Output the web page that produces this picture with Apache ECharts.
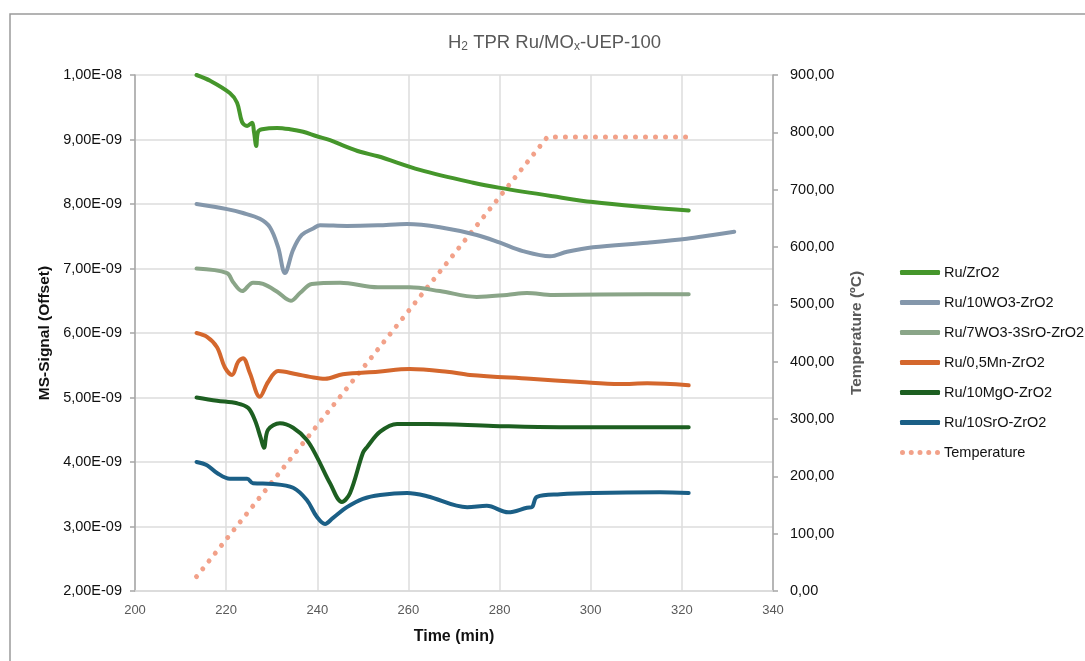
<!DOCTYPE html>
<html>
<head>
<meta charset="utf-8">
<script src="https://cdn.jsdelivr.net/npm/echarts@6/dist/echarts.min.js"></script>
<style>
  html, body { margin: 0; padding: 0; background: #fff; }
  #chart { width: 1085px; height: 661px; }
</style>
</head>
<body>
<div id="chart"></div>
<script>
// MS signal values are stored in units of 1E-09; points are [time (min), signal]
const seriesNames = ['Ru/ZrO2', 'Ru/10WO3-ZrO2', 'Ru/7WO3-3SrO-ZrO2', 'Ru/0,5Mn-ZrO2', 'Ru/10MgO-ZrO2', 'Ru/10SrO-ZrO2', 'Temperature'];
const seriesColors = ['#45962b', '#8497ab', '#8aa588', '#d4672d', '#1d5f21', '#1b5f86', '#f2a189'];

const ruZrO2 = [
  [213.5, 10.00], [216.5, 9.91], [220.8, 9.72], [222.4, 9.57], [223.5, 9.27], [224.6, 9.21],
  [225.7, 9.26], [226.1, 9.12], [226.6, 8.90], [227.0, 9.12], [227.9, 9.16], [231.2, 9.18],
  [234.0, 9.16], [236.9, 9.12], [239.9, 9.05], [242.8, 8.99], [245.6, 8.91], [249.4, 8.81],
  [253.3, 8.74], [262.5, 8.53], [274.2, 8.33], [280.1, 8.25], [291.7, 8.12], [300.5, 8.03],
  [312.4, 7.95], [321.5, 7.90]
];
const ru10WO3 = [
  [213.5, 8.00], [220.2, 7.92], [223.7, 7.86], [227.4, 7.77], [229.6, 7.64], [231.4, 7.33],
  [232.9, 6.93], [234.7, 7.29], [236.6, 7.52], [239.1, 7.62], [240.6, 7.67], [246.5, 7.66],
  [253.3, 7.67], [259.7, 7.69], [266.9, 7.64], [275.0, 7.52], [280.1, 7.40], [285.1, 7.27],
  [291.1, 7.19], [294.8, 7.26], [300.5, 7.33], [312.4, 7.40], [321.1, 7.46], [326.8, 7.52],
  [331.5, 7.57]
];
const ru7WO3SrO = [
  [213.5, 7.00], [220.2, 6.93], [221.5, 6.79], [223.5, 6.65], [225.9, 6.78], [228.1, 6.76],
  [231.2, 6.64], [234.2, 6.50], [236.2, 6.62], [238.8, 6.76], [245.0, 6.78], [253.3, 6.71],
  [260.3, 6.71], [266.9, 6.65], [275.0, 6.56], [281.6, 6.59], [286.0, 6.62], [291.7, 6.59],
  [312.4, 6.60], [321.5, 6.60]
];
const ru05Mn = [
  [213.5, 6.00], [215.8, 5.94], [218.0, 5.78], [219.7, 5.47], [221.3, 5.35], [222.6, 5.55],
  [223.7, 5.61], [225.2, 5.38], [227.4, 5.01], [229.2, 5.24], [231.4, 5.41], [235.5, 5.36],
  [238.4, 5.32], [241.7, 5.29], [245.6, 5.36], [253.3, 5.40], [260.3, 5.44], [268.5, 5.40],
  [273.5, 5.35], [286.7, 5.29], [297.7, 5.24], [306.4, 5.21], [312.4, 5.22], [321.5, 5.19]
];
const ru10MgO = [
  [213.5, 5.00], [218.0, 4.95], [222.4, 4.91], [224.8, 4.84], [226.3, 4.65], [227.6, 4.37],
  [228.3, 4.22], [229.2, 4.50], [231.8, 4.60], [234.7, 4.53], [237.7, 4.34], [239.9, 4.08],
  [242.8, 3.67], [245.4, 3.38], [247.2, 3.52], [250.0, 4.14], [250.9, 4.23], [253.8, 4.47],
  [257.5, 4.59], [264.1, 4.59], [278.6, 4.56], [293.3, 4.54], [321.5, 4.54]
];
const ru10SrO = [
  [213.5, 4.00], [215.8, 3.95], [218.0, 3.83], [220.8, 3.74], [224.6, 3.74], [225.9, 3.67],
  [230.3, 3.66], [234.7, 3.60], [237.7, 3.41], [239.9, 3.15], [241.7, 3.04], [243.4, 3.13],
  [246.5, 3.30], [250.0, 3.43], [253.8, 3.49], [259.7, 3.52], [264.1, 3.47], [272.9, 3.30],
  [277.2, 3.32], [281.9, 3.22], [286.0, 3.29], [287.1, 3.30], [288.2, 3.46], [293.3, 3.50],
  [300.5, 3.52], [315.2, 3.53], [321.5, 3.52]
];
// Temperature program, °C
const temperature = [[213.5, 25], [290.5, 792], [322.3, 792]];

const signalSeries = [ruZrO2, ru10WO3, ru7WO3SrO, ru05Mn, ru10MgO, ru10SrO];

const xTicks = { min: 200, max: 340, interval: 20 };
const leftTicks = { min: 2, max: 10, interval: 1 };
const rightTicks = { min: 0, max: 900, interval: 100 };

function sciLabel(v) {
  const s = (v * 1e-9).toExponential(2);
  const [m, e] = s.split('e');
  const ex = parseInt(e, 10);
  return m.replace('.', ',') + 'E' + (ex < 0 ? '-' : '+') + String(Math.abs(ex)).padStart(2, '0');
}

// legend key for the dotted temperature trace: five round dots in a 40 x 5 box
const dotsIcon = 'path://' + [2.5, 11.25, 20, 28.75, 37.5]
  .map(cx => `M${cx - 2.5},2.5 a2.5,2.5 0 1,0 5,0 a2.5,2.5 0 1,0 -5,0 Z`).join(' ');

const FONT = 'Liberation Sans';
const chart = echarts.init(document.getElementById('chart'), null, { renderer: 'canvas' });

const series = signalSeries.map((d, i) => ({
  name: seriesNames[i],
  type: 'line',
  yAxisIndex: 0,
  data: d,
  smooth: 0.35,
  symbol: 'none',
  showSymbol: false,
  lineStyle: { width: 4, color: seriesColors[i], cap: 'round', join: 'round' },
  itemStyle: { color: seriesColors[i] },
  z: 3 + i
}));
series.push({
  name: seriesNames[6],
  type: 'line',
  yAxisIndex: 1,
  data: temperature,
  symbol: 'none',
  showSymbol: false,
  lineStyle: { width: 5, color: seriesColors[6], type: [0.01, 10], cap: 'round' },
  itemStyle: { color: seriesColors[6] },
  z: 2
});

chart.setOption({
  animation: false,
  backgroundColor: '#fff',
  textStyle: { fontFamily: FONT },
  graphic: [{
    type: 'rect',
    shape: { x: 10, y: 14, width: 1300, height: 900 },
    style: { fill: 'none', stroke: '#9a9a9a', lineWidth: 1.5 },
    silent: true
  }],
  title: {
    text: '{n|H}{s|2}{n| TPR Ru/MO}{s|x}{n|-UEP-100}',
    left: 443,
    top: 27,
    textStyle: {
      fontWeight: 'normal',
      rich: {
        n: { fontSize: 18.5, color: '#595959', fontFamily: FONT, fontWeight: 'normal' },
        s: { fontSize: 12, color: '#595959', fontFamily: FONT, fontWeight: 'normal', padding: [9, 0, 0, 0] }
      }
    }
  },
  legend: {
    orient: 'vertical',
    left: 895,
    top: 260,
    itemWidth: 40,
    itemHeight: 5,
    itemGap: 15,
    data: seriesNames.map((n, i) => ({ name: n, icon: i === 6 ? dotsIcon : 'roundRect' })),
    textStyle: { fontSize: 14.5, color: '#111', fontFamily: FONT, padding: [0, 0, 0, -1] }
  },
  grid: { left: 135, right: 312, top: 75, bottom: 70, containLabel: false },
  xAxis: {
    type: 'value',
    min: xTicks.min, max: xTicks.max, interval: xTicks.interval,
    name: 'Time (min)',
    nameLocation: 'middle',
    nameGap: 38,
    nameTextStyle: { fontSize: 16, fontWeight: 'bold', color: '#111', fontFamily: FONT },
    axisLine: { show: true, lineStyle: { color: '#d9d9d9', width: 1.5 } },
    axisTick: { show: false },
    axisLabel: { fontSize: 13, color: '#595959', margin: 13, fontFamily: FONT },
    splitLine: { show: true, lineStyle: { color: '#dcdcdc', width: 1.5 } }
  },
  yAxis: [{
    type: 'value',
    position: 'left',
    min: leftTicks.min, max: leftTicks.max, interval: leftTicks.interval,
    name: 'MS-Signal (Offset)',
    nameLocation: 'middle',
    nameGap: 82,
    nameTextStyle: { fontSize: 15.5, fontWeight: 'bold', color: '#111', fontFamily: FONT },
    axisLine: { show: true, lineStyle: { color: '#a6a6a6', width: 1.5 } },
    axisTick: { show: true, length: 5, lineStyle: { color: '#a6a6a6', width: 1.5 } },
    axisLabel: { fontSize: 14.5, color: '#111', margin: 13, formatter: sciLabel, fontFamily: FONT },
    splitLine: { show: true, lineStyle: { color: '#dcdcdc', width: 1.5 } }
  }, {
    type: 'value',
    position: 'right',
    min: rightTicks.min, max: rightTicks.max, interval: rightTicks.interval,
    name: 'Temperature (ºC)',
    nameLocation: 'middle',
    nameGap: 76,
    nameRotate: 90,
    nameTextStyle: { fontSize: 15.5, fontWeight: 'bold', color: '#595959', fontFamily: FONT },
    axisLine: { show: true, lineStyle: { color: '#a6a6a6', width: 1.5 } },
    axisTick: { show: true, length: 5, lineStyle: { color: '#a6a6a6', width: 1.5 } },
    axisLabel: { fontSize: 14.5, color: '#111', margin: 17, fontFamily: FONT,
      formatter: v => v.toFixed(2).replace('.', ',') },
    splitLine: { show: false }
  }],
  series: series
});
</script>
</body>
</html>
